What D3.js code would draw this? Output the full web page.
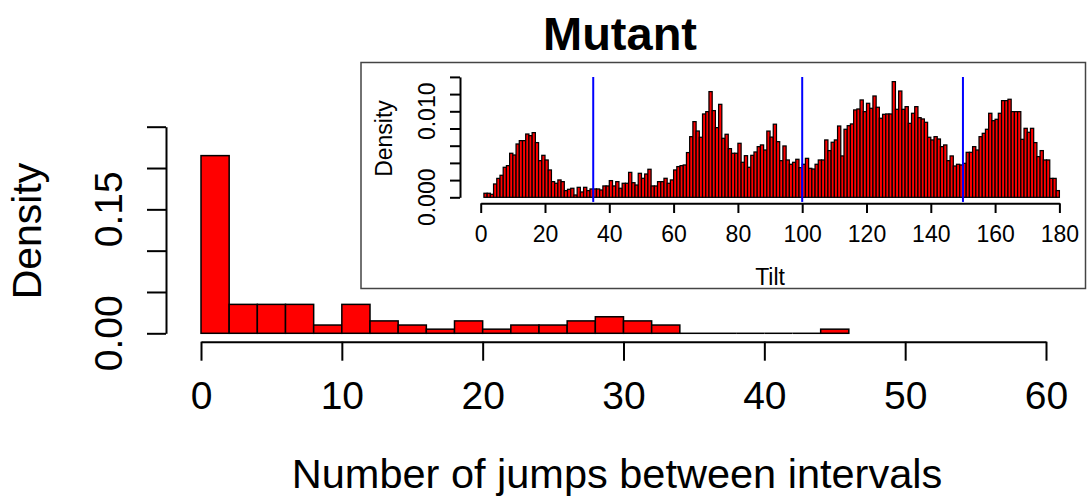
<!DOCTYPE html>
<html>
<head>
<meta charset="utf-8">
<script src="https://cdn.jsdelivr.net/npm/d3@7"></script>
<style>
  html, body { margin: 0; padding: 0; background: #fff; }
  svg { display: block; font-family: "Liberation Sans", Arial, Helvetica, sans-serif; }
</style>
</head>
<body>
<svg id="chart" width="1092" height="503"></svg>
<script>
// main histogram: number of jumps, bins of width 2
const jumpBinStarts = [0, 2, 4, 6, 8, 10, 12, 14, 16, 18, 20, 22, 24, 26, 28, 30, 32, 34, 36, 38, 40, 42, 44];
const jumpDensity = [0.215, 0.035, 0.035, 0.035, 0.010, 0.035, 0.015, 0.010, 0.005, 0.015, 0.005, 0.010,
  0.010, 0.015, 0.020, 0.015, 0.010, 0, 0, 0, 0, 0, 0.005];
const jumpBinWidth = 2;
const jumpTicks = [0, 10, 20, 30, 40, 50, 60];
const densityTicks = [0, 0.05, 0.10, 0.15, 0.20, 0.25];
const densityLabels = ['0.00', '0.15'];

// inset histogram: tilt, bins of width 1 from 0 to 180
const tiltDensity = [
  0, 0.00047, 0.00047, 0.00035, 0.00155, 0.0022, 0.00256, 0.00349, 0.00368, 0.00512,
  0.00492, 0.0062, 0.00659, 0.00659, 0.00736, 0.00717, 0.00752, 0.00636, 0.00426, 0.00488,
  0.00434, 0.00318, 0.00182, 0.00163, 0.00202, 0.00182, 0.00078, 0.00093, 0.00105, 0.00027,
  0.00116, 0.00062, 0.00116, 0.00078, 0.00097, 0.00097, 0.00097, 0.00085, 0.00132, 0.00132,
  0.00194, 0.00132, 0.00182, 0.00105, 0.00163, 0.00163, 0.0029, 0.0017, 0.00143, 0.00279,
  0.00221, 0.00271, 0.00326, 0.00132, 0.00132, 0.00182, 0.00182, 0.00221, 0.00163, 0.00202,
  0.00318, 0.00357, 0.00368, 0.00376, 0.0052, 0.00705, 0.0088, 0.00771, 0.00698, 0.00969,
  0.00996, 0.01229, 0.01008, 0.0081, 0.01081, 0.00686, 0.00733, 0.00566, 0.00512, 0.00512,
  0.00628, 0.00407, 0.00484, 0.00349, 0.00488, 0.00527, 0.00589, 0.00609, 0.0055, 0.0077,
  0.0070, 0.0085, 0.00647, 0.00426, 0.00597, 0.00434, 0.00384, 0.00407, 0.00442, 0.00345,
  0.00384, 0.00453, 0.00337, 0.00329, 0.00384, 0.00434, 0.00434, 0.00667, 0.00543, 0.0064,
  0.00667, 0.00829, 0.00481, 0.00791, 0.00833, 0.00853, 0.01016, 0.01027, 0.01132, 0.00996,
  0.01093, 0.01035, 0.01178, 0.01047, 0.00919, 0.00965, 0.00969, 0.00969, 0.01345, 0.01023,
  0.01236, 0.01023, 0.01054, 0.0086, 0.00977, 0.01054, 0.00926, 0.00911, 0.00872, 0.00698,
  0.00667, 0.00705, 0.00678, 0.00589, 0.00609, 0.00426, 0.00481, 0.00364, 0.00384, 0.00376,
  0.00395, 0.00523, 0.00523, 0.00589, 0.0055, 0.00705, 0.00744, 0.00791, 0.00977, 0.00891,
  0.00907, 0.00977, 0.01124, 0.01124, 0.0114, 0.00996, 0.00996, 0.00996, 0.00674, 0.00802,
  0.00756, 0.00802, 0.00636, 0.00473, 0.00543, 0.00434, 0.00434, 0.0022, 0.0022, 0.00078
];
const tiltBinWidth = 1;
const tiltTicks = [0, 20, 40, 60, 80, 100, 120, 140, 160, 180];
const tiltDensityTicks = [0, 0.002, 0.004, 0.006, 0.008, 0.010, 0.012, 0.014];
const tiltDensityLabels = [[0, '0.000'], [0.010, '0.010']];
const tiltCutoffs = [35, 100, 150];
const tiltUsrY = [-0.00054, 0.01399];

const svg = d3.select('#chart');

// ---------- main chart ----------
const x = d3.scaleLinear().domain([0, 60]).range([201, 1046]);
const y = d3.scaleLinear().domain([0, 0.25]).range([333.3, 126.7]);

const bars = svg.append('g');
bars.selectAll('rect')
  .data(jumpBinStarts.filter((d, i) => jumpDensity[i] > 0))
  .enter()
  .append('rect')
  .attr('x', d => x(d))
  .attr('width', d => x(d + jumpBinWidth) - x(d))
  .attr('y', d => y(jumpDensity[jumpBinStarts.indexOf(d)]))
  .attr('height', d => y(0) - y(jumpDensity[jumpBinStarts.indexOf(d)]))
  .attr('fill', '#ff0000')
  .attr('stroke', '#000')
  .attr('stroke-width', 1.5);

// empty bins still show as a flat outline
bars.selectAll('line')
  .data(jumpBinStarts.filter((d, i) => jumpDensity[i] === 0))
  .enter()
  .append('line')
  .attr('x1', d => x(d)).attr('x2', d => x(d + jumpBinWidth))
  .attr('y1', y(0)).attr('y2', y(0))
  .attr('stroke', '#000')
  .attr('stroke-width', 1.5);

const xAxis = svg.append('g')
  .attr('transform', 'translate(0, 341.7)')
  .call(d3.axisBottom(x).tickValues(jumpTicks).tickSize(19).tickPadding(21).tickSizeOuter(0));
xAxis.selectAll('path, line').attr('stroke', '#000').attr('stroke-width', 2);
xAxis.selectAll('text').attr('font-size', 39).attr('font-family', null).attr('fill', '#000');

const yAxis = svg.append('g')
  .attr('transform', 'translate(166, 0)')
  .call(d3.axisLeft(y).tickValues(densityTicks).tickSize(19).tickFormat('').tickSizeOuter(0));
yAxis.selectAll('path, line').attr('stroke', '#000').attr('stroke-width', 2);

svg.append('g')
  .selectAll('text')
  .data(densityLabels)
  .enter()
  .append('text')
  .attr('transform', d => `translate(122, ${y(+d)}) rotate(-90)`)
  .attr('text-anchor', 'middle')
  .attr('font-size', 39)
  .text(d => d);

svg.append('text')
  .attr('x', 620).attr('y', 50)
  .attr('text-anchor', 'middle')
  .attr('font-size', 47).attr('font-weight', 'bold')
  .text('Mutant');

svg.append('text')
  .attr('x', 617).attr('y', 488)
  .attr('text-anchor', 'middle')
  .attr('font-size', 41.5)
  .text('Number of jumps between intervals');

svg.append('text')
  .attr('transform', 'translate(41, 231) rotate(-90)')
  .attr('text-anchor', 'middle')
  .attr('font-size', 41)
  .text('Density');

// ---------- inset ----------
const inset = svg.append('g');
inset.append('rect')
  .attr('x', 361).attr('y', 62.5)
  .attr('width', 724.5).attr('height', 226)
  .attr('fill', '#fff')
  .attr('stroke', '#444')
  .attr('stroke-width', 1.5);

const ix = d3.scaleLinear().domain([0, 180]).range([480.7, 1059.4]);
const iy = d3.scaleLinear().domain([0, 0.014]).range([197.3, 76.9]);

inset.append('g')
  .selectAll('rect')
  .data(tiltDensity)
  .enter()
  .append('rect')
  .attr('x', (d, i) => ix(i * tiltBinWidth))
  .attr('width', (d, i) => ix((i + 1) * tiltBinWidth) - ix(i * tiltBinWidth))
  .attr('y', d => iy(d))
  .attr('height', d => iy(0) - iy(d))
  .attr('fill', '#ff0000')
  .attr('stroke', '#000')
  .attr('stroke-width', 1.25);

inset.append('g')
  .selectAll('line')
  .data(tiltCutoffs)
  .enter()
  .append('line')
  .attr('x1', d => ix(d)).attr('x2', d => ix(d))
  .attr('y1', iy(tiltUsrY[1])).attr('y2', iy(tiltUsrY[0]))
  .attr('stroke', '#0000ff')
  .attr('stroke-width', 2);

const ixAxis = inset.append('g')
  .attr('transform', 'translate(0, 203.3)')
  .call(d3.axisBottom(ix).tickValues(tiltTicks).tickSize(9.7).tickPadding(13).tickSizeOuter(0));
ixAxis.selectAll('path, line').attr('stroke', '#000').attr('stroke-width', 2);
ixAxis.selectAll('text').attr('font-size', 23).attr('font-family', null).attr('fill', '#000');

const iyAxis = inset.append('g')
  .attr('transform', 'translate(460, 0)')
  .call(d3.axisLeft(iy).tickValues(tiltDensityTicks).tickSize(10).tickFormat('').tickSizeOuter(0));
iyAxis.selectAll('path, line').attr('stroke', '#000').attr('stroke-width', 2);

inset.append('g')
  .selectAll('text')
  .data(tiltDensityLabels)
  .enter()
  .append('text')
  .attr('transform', d => `translate(435, ${iy(d[0])}) rotate(-90)`)
  .attr('text-anchor', 'middle')
  .attr('font-size', 23)
  .text(d => d[1]);

inset.append('text')
  .attr('x', ix(90)).attr('y', 285)
  .attr('text-anchor', 'middle')
  .attr('font-size', 23)
  .text('Tilt');

inset.append('text')
  .attr('transform', 'translate(392, 138.5) rotate(-90)')
  .attr('text-anchor', 'middle')
  .attr('font-size', 23)
  .text('Density');
</script>
</body>
</html>
